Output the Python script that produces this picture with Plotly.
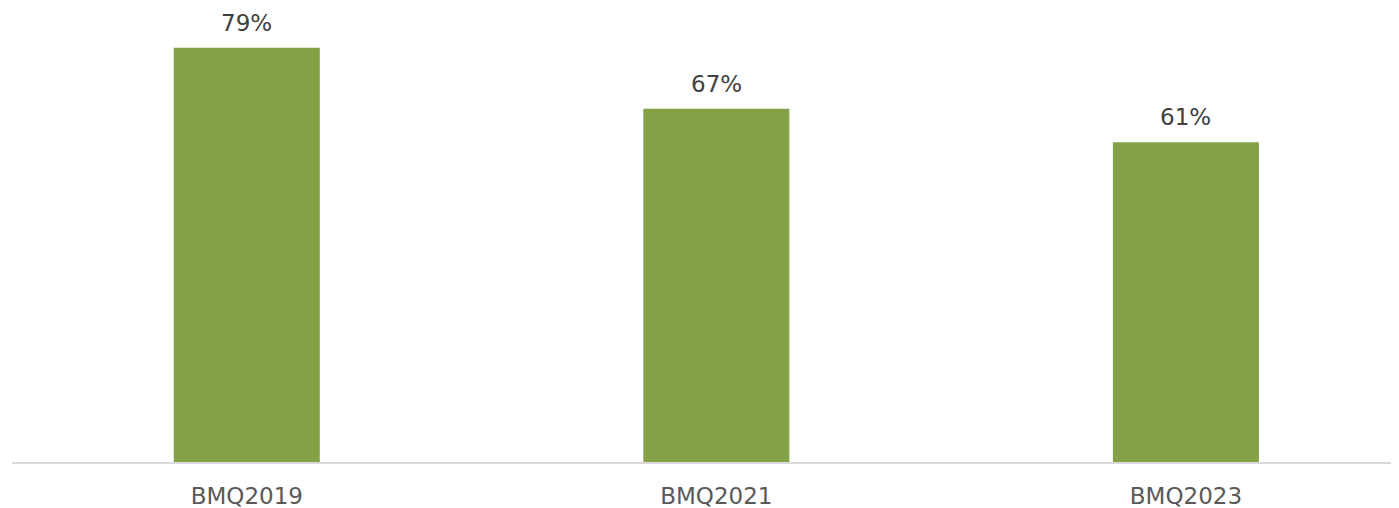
import plotly.graph_objects as go

categories = ["BMQ2019", "BMQ2021", "BMQ2023"]
values = [79, 67.4, 61]
labels = ["79%", "67%", "61%"]

fig = go.Figure(go.Bar(
    x=categories, y=values,
    marker=dict(color="#83A247", line=dict(width=0)),
    width=0.311,
))

for c, v, t in zip(categories, values, labels):
    fig.add_annotation(x=c, y=v, text=t, showarrow=False, yanchor="bottom",
                       yshift=10, font=dict(family="DejaVu Sans", size=23, color="#404040"))

# page body has an 8px margin, so the figure is offset by (8, 8)
fig.update_layout(
    width=1400, height=500,
    margin=dict(l=4, r=0, t=0, b=46),
    plot_bgcolor="white", paper_bgcolor="white",
    showlegend=False,
    xaxis=dict(range=[-0.5, 2.473], showline=True, linecolor="#D9D9D9", linewidth=2,
               ticks="", showgrid=False, ticklabelstandoff=12,
               tickfont=dict(family="DejaVu Sans", size=23, color="#595959")),
    yaxis=dict(range=[0, 86.6], visible=False, showgrid=False),
)
fig.write_html("out.html", post_script="document.body.style.overflow='hidden';")
